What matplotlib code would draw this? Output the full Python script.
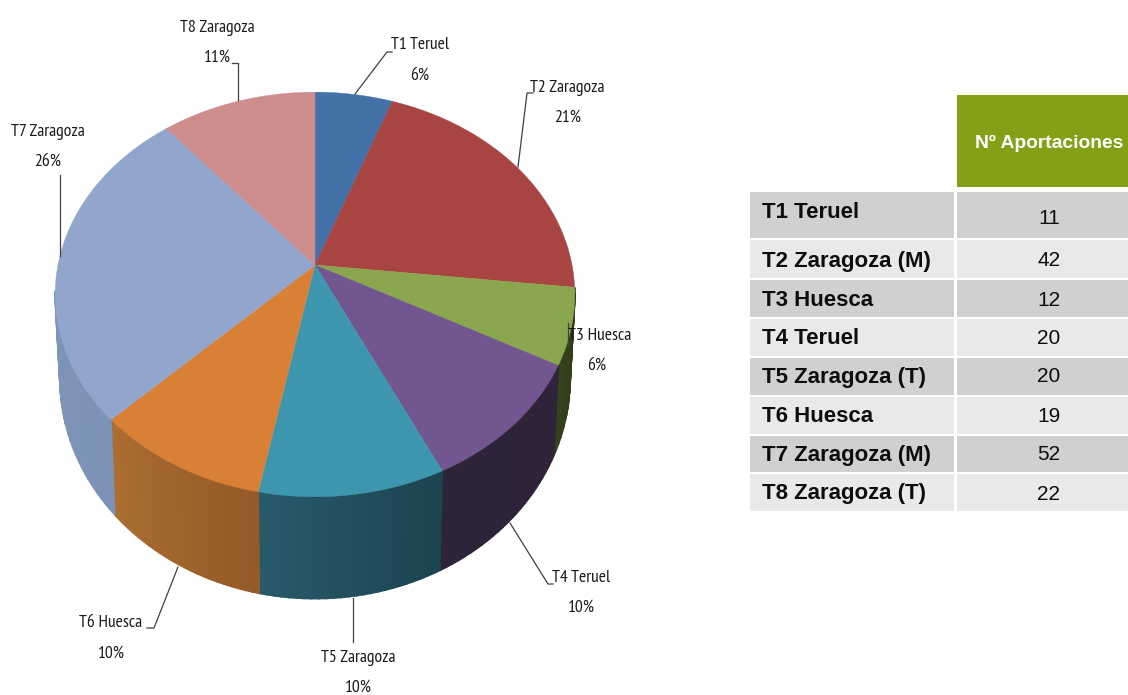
import numpy as np
import matplotlib
matplotlib.use('Agg')
import matplotlib.pyplot as plt
from matplotlib.patches import Rectangle

# data
tramos = ['T1 Teruel', 'T2 Zaragoza (M)', 'T3 Huesca', 'T4 Teruel',
          'T5 Zaragoza (T)', 'T6 Huesca', 'T7 Zaragoza (M)', 'T8 Zaragoza (T)']
aportaciones = [11, 42, 12, 20, 20, 19, 52, 22]
pie_names = ['T1 Teruel', 'T2 Zaragoza', 'T3 Huesca', 'T4 Teruel',
             'T5 Zaragoza', 'T6 Huesca', 'T7 Zaragoza', 'T8 Zaragoza']
pie_pct = ['6%', '21%', '6%', '10%', '10%', '10%', '26%', '11%']
table_header = 'Nº Aportaciones'

top_colors = ['#4472a8', '#a84542', '#8aa64e', '#71568f',
              '#3e96ae', '#d98037', '#92a6cd', '#cc8d8c']
side_start = ['#2f5078', '#76302e', '#2e3a18', '#2e2339',
              '#1c4350', '#945a28', '#7c92b6', '#8f6362']
side_end = ['#2f5078', '#76302e', '#36421c', '#2e2439',
            '#285a69', '#ab6d30', '#8599bb', '#8f6362']

# label centres and leader lines, in image pixels
label_xy = [(420, 45), (567, 88), (600, 336), (581, 578),
            (358, 658), (111, 623), (48, 132), (217, 28)]
pct_xy = [(420, 76), (568, 118), (597, 366), (581, 608),
          (358, 688), (111, 654), (48, 162), (217, 58)]
leaders = [[(355, 94), (387, 52), (392, 52)],
           [(518, 167), (527, 93), (533, 93)],
           [(568, 323), (568, 345)],
           [(510, 523), (548, 584), (553, 584)],
           [(353, 598), (353, 642)],
           [(178, 567), (154, 628), (147, 628)],
           [(60, 256), (60, 175)],
           [(238, 100), (238, 63), (232, 63)]]

row_edges = [(192, 238), (240, 278), (280, 317), (319, 356),
             (358, 395), (397, 434), (436, 472), (474, 511)]
name_y = [212, 261, 300, 339, 378, 417, 456, 494]
value_y = [219, 261, 300, 339, 377, 417, 455, 494]

cx, cy = 315, 265


def top_point(theta):
    # perspective view of the pie's top disc, theta clockwise from 12 o'clock
    w = 1 + 0.1457 * np.cos(theta)
    return cx + 257 * np.sin(theta) / w, cy - 198 * np.cos(theta) / w


def bottom_point(theta):
    x, y = top_point(theta)
    return cx + (x - cx) * 0.982, y + 90 + (y - 365) * 0.09


def blend(c1, c2, t):
    c1 = np.array(matplotlib.colors.to_rgb(c1))
    c2 = np.array(matplotlib.colors.to_rgb(c2))
    return c1 + (c2 - c1) * t


fig = plt.figure(figsize=(11.28, 6.95), dpi=100)
ax = fig.add_axes([0, 0, 1, 1])
ax.set_xlim(0, 1128)
ax.set_ylim(695, 0)
ax.axis('off')

edges = np.cumsum([0] + aportaciones) / sum(aportaciones) * 2 * np.pi

# sides first, in thin strips so the shading runs along the rim
for i in range(len(aportaciones)):
    n = max(int((edges[i + 1] - edges[i]) * 40), 2)
    th = np.linspace(edges[i], edges[i + 1], n + 1)
    for j in range(n):
        # back of the rim is hidden and the thick strip edges would show round the disc
        if np.cos(th[j]) > -0.11 or np.cos(th[j + 1]) > -0.11:
            continue
        xt, yt = top_point(th[j:j + 2])
        xb, yb = bottom_point(th[j:j + 2])
        c = blend(side_start[i], side_end[i], j / (n - 1))
        ax.fill(np.r_[xt, xb[::-1]], np.r_[yt, yb[::-1]], color=c, lw=1.2, zorder=2)

for i in range(len(aportaciones)):
    th = np.linspace(edges[i], edges[i + 1], 120)
    x, y = top_point(th)
    ax.fill(np.r_[cx, x], np.r_[cy, y], color=top_colors[i], lw=0.3, zorder=3)

font_pie = ['PT Sans Narrow', 'Liberation Sans']
for i in range(len(pie_names)):
    xs, ys = zip(*leaders[i])
    ax.plot(xs, ys, color='#404040', lw=0.9, zorder=4)
    ax.text(label_xy[i][0], label_xy[i][1], pie_names[i], ha='center', va='center',
            fontsize=12.7, family=font_pie, color='#1a1a1a', zorder=5)
    ax.text(pct_xy[i][0], pct_xy[i][1], pie_pct[i], ha='center', va='center',
            fontsize=12.7, family=font_pie, color='#1a1a1a', zorder=5)

# table
ax.add_patch(Rectangle((957, 95), 171, 92, color='#84a016', lw=0))
ax.text(1049, 143, table_header, ha='center', va='center', color='white',
        fontsize=13.9, fontweight='bold', family='Liberation Sans')
for i in range(len(tramos)):
    y0, y1 = row_edges[i]
    c = '#d0d0d0' if i % 2 == 0 else '#e9e9e9'
    ax.add_patch(Rectangle((750, y0), 204, y1 - y0, color=c, lw=0))
    ax.add_patch(Rectangle((957, y0), 171, y1 - y0, color=c, lw=0))
    ax.text(762, name_y[i], tramos[i], ha='left', va='center', color='#0d0d0d',
            fontsize=16, fontweight='bold', family='Liberation Sans')
    ax.text(1049, value_y[i], str(aportaciones[i]), ha='center', va='center',
            color='#0d0d0d', fontsize=15, family='Liberation Sans')

fig.savefig('out.png', dpi=100)
